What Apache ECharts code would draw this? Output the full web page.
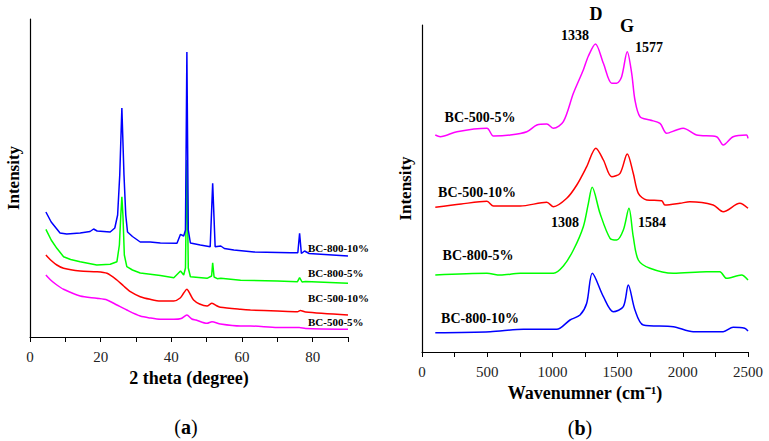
<!DOCTYPE html>
<html>
<head>
<meta charset="utf-8">
<script src="https://cdn.jsdelivr.net/npm/echarts@6/dist/echarts.min.js"></script>
<style>
  html, body { margin: 0; padding: 0; background: #fff; }
  #chart { width: 769px; height: 441px; }
</style>
</head>
<body>
<div id="chart"></div>
<script>
// (a) XRD, 2 theta (degree) vs intensity (a.u., offset stacked)
var xrd800_10 = [[4.5,125],[6,115],[8.5,104],[10.4,103],[14.2,104],[17,105.5],[18,108],[19,106],[22.7,105],[24,109],
  [24.8,122],[25.4,162],[26,229],[26.6,162],[27.1,122],[27.6,105],[29,100.5],[31.2,95],[34,95],[36.9,94],[41.6,93.7],
  [42.6,102.7],[43.5,101],[44,107],[44.4,285],[44.8,107],[45.4,94],[48.2,92],[51,90.3],[51.7,153.7],[52.4,90.3],
  [54,91],[55,88.5],[57.7,87],[63.4,85],[73.8,84.3],[75.8,84.3],[76.3,103.7],[76.8,83.5],[77.7,86],[79,83.5],[90,81]];
var xrd800_5 = [[4.5,107.7],[6,97],[7.6,88.7],[9.5,80.3],[11.5,77.5],[14.2,75.3],[18.9,72],[22.7,72.7],[24.6,75.3],
  [25.3,92],[25.7,122],[26,140.3],[26.3,122],[26.7,82],[27.4,70.3],[29,67],[31.2,64],[36.9,61.5],[40.7,59.3],[42.6,66],
  [43.5,62],[44,69],[44.4,177],[44.8,69],[45.4,60.3],[50.1,58.7],[51.4,61],[51.7,74.3],[52.1,60],[53,58.3],[54,58.7],
  [59.6,56.7],[70,56],[75.7,55.3],[76.3,59.3],[77,55],[78,55.5],[90,53.7]];
var xrd500_10 = [[4.5,82],[6,76.5],[7.6,72],[9.5,68.7],[14.2,66],[18.9,65.3],[21.8,63.7],[24.6,57],[26.5,51],[28.4,45.3],
  [31.2,40.3],[34,37.7],[36.9,36],[40.7,36],[42.5,39],[43.5,44],[44.4,47.7],[45.3,43],[46.3,37],[48,33],[50.1,31],
  [51.5,33.7],[53,31],[53.9,29.7],[59.6,27.7],[62.4,27],[70,26],[75.7,25.3],[76.5,26.5],[78,25],[90,22]];
var xrd500_5 = [[4.5,62],[6,56.5],[7.6,52],[9.5,47.7],[14.2,41],[18.9,38.7],[21.8,37],[24.6,32],[27.4,27],[31.2,21],
  [34,19],[36.9,17.7],[40.7,17.7],[42.8,18.5],[44.4,22],[45.8,18],[47,17],[50.1,13.7],[51.5,15.3],[53.9,13],[59.6,11],
  [62.4,11],[70,9.5],[76.2,9.5],[78,8.5],[90,7.7]];

// (b) Raman, wavenumber (cm-1) vs intensity (a.u., offset stacked)
var ram500_5 = [[102,217],[140,215.3],[268,220.3],[498,223.7],[548,216],[676,217],[804,220.3],[881,227],[957,228],
  [1008,223.7],[1084,230.3],[1161,258.7],[1237,282],[1276,296],[1330,308],[1391,288.7],[1455,268.7],[1493,268.7],
  [1531,275.3],[1574,300.3],[1608,278.7],[1633,252],[1672,235.3],[1748,232],[1825,228.7],[1876,218.7],[1952,222],
  [2003,223.7],[2105,217],[2259,215.3],[2310,207],[2386,215.3],[2488,217],[2500,213.7]];
var ram500_10 = [[102,144.7],[300,148],[498,150.7],[548,146],[753,146],[957,149.7],[1008,145.3],[1110,153.7],
  [1187,167],[1263,185.3],[1333,203.7],[1391,192],[1455,175.3],[1519,178.7],[1574,198],[1620,178.7],[1659,158.7],
  [1723,152],[1838,151.3],[1863,147],[1978,148.7],[2054,150.3],[2233,147],[2310,140.3],[2437,148.7],[2500,143.7]];
var ram800_5 = [[102,77],[498,78.7],[600,77],[753,78.7],[1008,78.7],[1084,86],[1161,102],[1237,125.3],[1276,148.7],
  [1305,164.7],[1365,138.7],[1442,113.7],[1493,112],[1544,122],[1587,143.7],[1620,115.3],[1659,92],[1748,83.7],
  [1927,78.7],[2182,80.3],[2284,80.3],[2335,73.7],[2450,77],[2500,72]];
var ram800_10 = [[102,19.3],[523,20.3],[778,22.7],[1033,22.7],[1135,32],[1212,37],[1263,48.7],[1306,78.7],[1391,55.3],
  [1467,40.3],[1544,45.3],[1582,67],[1633,42],[1697,27],[1927,25.3],[2080,20.3],[2310,20.3],[2386,24.7],[2475,23.7],[2500,21]];

var sampleNames = ['BC-800-10%', 'BC-800-5%', 'BC-500-10%', 'BC-500-5%'];
var colors = ['#0000ff', '#00ff00', '#ff0000', '#ff00ff'];

var serif = '"Liberation Serif", "Times New Roman", serif';

function line(name, data, color, idx, smooth) {
  return {
    name: name,
    type: 'line',
    xAxisIndex: idx,
    yAxisIndex: idx,
    data: data,
    showSymbol: false,
    smooth: smooth,
    lineStyle: { color: color, width: 1.5 },
    z: 2
  };
}

function xAx(idx, max, step, labelStep, name, gap) {
  return {
    gridIndex: idx,
    type: 'value',
    min: 0,
    max: max,
    interval: step,
    name: name,
    nameLocation: 'middle',
    nameGap: gap,
    nameTextStyle: { fontFamily: serif, fontWeight: 'bold', fontSize: 18, color: '#000' },
    axisLine: { show: true, onZero: false, lineStyle: { color: '#000', width: 1.2 } },
    axisTick: { show: true, inside: false, length: 5, lineStyle: { color: '#000' } },
    axisLabel: {
      margin: 12,
      fontFamily: serif,
      fontSize: 15,
      color: '#222',
      formatter: function (v) { return v % labelStep === 0 ? String(v) : ''; }
    },
    splitLine: { show: false }
  };
}

function yAx(idx, max) {
  return {
    gridIndex: idx,
    type: 'value',
    min: 0,
    max: max,
    name: 'Intensity',
    nameLocation: 'middle',
    nameGap: 8,
    nameTextStyle: { fontFamily: serif, fontWeight: 'bold', fontSize: 17, color: '#000' },
    axisLine: { show: true, lineStyle: { color: '#000', width: 1.2 } },
    axisTick: { show: false },
    axisLabel: { show: false },
    splitLine: { show: false }
  };
}

function txt(x, y, s, size, align) {
  return {
    type: 'text',
    x: x,
    y: y,
    style: {
      text: s,
      fontFamily: serif,
      fontWeight: 'bold',
      fontSize: size,
      fill: '#000',
      align: align || 'center',
      verticalAlign: 'middle'
    }
  };
}

var chart = echarts.init(document.getElementById('chart'), null, { renderer: 'svg' });
chart.setOption({
  animation: false,
  backgroundColor: '#fff',
  grid: [
    { left: 30, top: 19, width: 318, height: 318 },
    { left: 422, top: 25, width: 326, height: 327 }
  ],
  xAxis: [
    xAx(0, 90, 10, 20, '2 theta (degree)', 30),
    xAx(1, 2500, 250, 500, 'Wavenumner (cm\u207B\u00B9)', 32)
  ],
  yAxis: [yAx(0, 318), yAx(1, 327)],
  series: [
    line(sampleNames[3], xrd500_5, colors[3], 0, 0.25),
    line(sampleNames[2], xrd500_10, colors[2], 0, 0.25),
    line(sampleNames[1], xrd800_5, colors[1], 0, false),
    line(sampleNames[0], xrd800_10, colors[0], 0, false),
    line(sampleNames[3], ram500_5, colors[3], 1, 0.3),
    line(sampleNames[2], ram500_10, colors[2], 1, 0.3),
    line(sampleNames[1], ram800_5, colors[1], 1, 0.3),
    line(sampleNames[0], ram800_10, colors[0], 1, 0.3)
  ],
  graphic: [
    // panel (a) sample labels
    txt(308, 248, sampleNames[0], 11, 'left'),
    txt(308, 273, sampleNames[1], 11, 'left'),
    txt(308, 298, sampleNames[2], 11, 'left'),
    txt(308, 322, sampleNames[3], 11, 'left'),
    // panel (b) sample labels
    txt(480, 117, sampleNames[3], 14),
    txt(477, 192, sampleNames[2], 14),
    txt(478, 255, sampleNames[1], 14),
    txt(480, 318, sampleNames[0], 14),
    // band annotations
    txt(596, 14, 'D', 18),
    txt(627, 26, 'G', 18),
    txt(575, 35, '1338', 14),
    txt(649, 47, '1577', 14),
    txt(565, 222, '1308', 14),
    txt(652, 222, '1584', 14),
    // panel captions
    {
      type: 'text', x: 186, y: 427,
      style: { text: '({b|a})', rich: { b: { fontWeight: 'bold', fontFamily: serif, fontSize: 20 } },
        fontFamily: serif, fontSize: 20, fill: '#000', align: 'center', verticalAlign: 'middle' }
    },
    {
      type: 'text', x: 580, y: 428,
      style: { text: '({b|b})', rich: { b: { fontWeight: 'bold', fontFamily: serif, fontSize: 20 } },
        fontFamily: serif, fontSize: 20, fill: '#000', align: 'center', verticalAlign: 'middle' }
    }
  ]
});
</script>
</body>
</html>
